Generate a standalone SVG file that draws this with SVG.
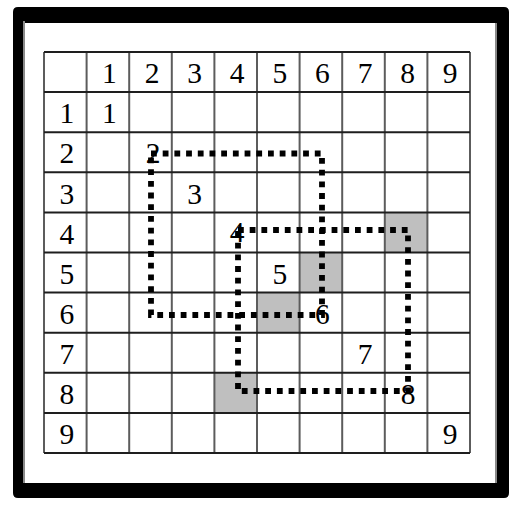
<svg xmlns="http://www.w3.org/2000/svg" width="522" height="510" viewBox="0 0 522 510">
<defs>
<style>
.hl{stroke:#1e1e1e;stroke-width:2}
.vl{stroke:#5c5c5c;stroke-width:2}
.cell{fill:#bfbfbf}
.t{font-family:"Liberation Serif","Times New Roman",serif;font-size:29.5px;fill:#000;text-anchor:middle}
.dot{fill:none;stroke:#000;stroke-width:5.8;stroke-dasharray:5.8 5.9}
</style>
</defs>
<rect width="522" height="510" fill="#fff"/>
<g id="frame">
<path fill="#000" fill-rule="evenodd" d="M18 7H504Q509 7 509 12V493Q509 498 504 498H18Q13 498 13 493V12Q13 7 18 7ZM23 23V483H497V23Z"/>
<rect x="23" y="21" width="2" height="462" fill="#8a8a8a"/>
<rect x="495" y="23" width="2" height="460" fill="#8a8a8a"/>
</g>
<g id="shaded">
<rect class="cell" x="384.8" y="212.4" width="42.6" height="40.1"/>
<rect class="cell" x="299.6" y="252.5" width="42.6" height="40.1"/>
<rect class="cell" x="257" y="292.6" width="42.6" height="40.1"/>
<rect class="cell" x="214.4" y="372.8" width="42.6" height="40.1"/>
</g>
<g id="grid">
<g class="vl">
<line x1="44" y1="52" x2="44" y2="453"/>
<line x1="86.6" y1="52" x2="86.6" y2="453"/>
<line x1="129.2" y1="52" x2="129.2" y2="453"/>
<line x1="171.8" y1="52" x2="171.8" y2="453"/>
<line x1="214.4" y1="52" x2="214.4" y2="453"/>
<line x1="257" y1="52" x2="257" y2="453"/>
<line x1="299.6" y1="52" x2="299.6" y2="453"/>
<line x1="342.2" y1="52" x2="342.2" y2="453"/>
<line x1="384.8" y1="52" x2="384.8" y2="453"/>
<line x1="427.4" y1="52" x2="427.4" y2="453"/>
<line x1="470" y1="52" x2="470" y2="453"/>
</g>
<g class="hl">
<line x1="44" y1="52" x2="470" y2="52"/>
<line x1="44" y1="92.1" x2="470" y2="92.1"/>
<line x1="44" y1="132.2" x2="470" y2="132.2"/>
<line x1="44" y1="172.3" x2="470" y2="172.3"/>
<line x1="44" y1="212.4" x2="470" y2="212.4"/>
<line x1="44" y1="252.5" x2="470" y2="252.5"/>
<line x1="44" y1="292.6" x2="470" y2="292.6"/>
<line x1="44" y1="332.7" x2="470" y2="332.7"/>
<line x1="44" y1="372.8" x2="470" y2="372.8"/>
<line x1="44" y1="412.9" x2="470" y2="412.9"/>
<line x1="44" y1="453" x2="470" y2="453"/>
</g>
</g>
<g id="header-labels">
<text class="t" x="109.4" y="83.2">1</text>
<text class="t" x="152" y="83.2">2</text>
<text class="t" x="194.6" y="83.2">3</text>
<text class="t" x="237.2" y="83.2">4</text>
<text class="t" x="279.8" y="83.2">5</text>
<text class="t" x="322.4" y="83.2">6</text>
<text class="t" x="365" y="83.2">7</text>
<text class="t" x="407.6" y="83.2">8</text>
<text class="t" x="450.2" y="83.2">9</text>
<text class="t" x="66.8" y="123.3">1</text>
<text class="t" x="66.8" y="163.4">2</text>
<text class="t" x="66.8" y="203.5">3</text>
<text class="t" x="66.8" y="243.6">4</text>
<text class="t" x="66.8" y="283.7">5</text>
<text class="t" x="66.8" y="323.8">6</text>
<text class="t" x="66.8" y="363.9">7</text>
<text class="t" x="66.8" y="404">8</text>
<text class="t" x="66.8" y="444.1">9</text>
</g>
<g id="connectors">
<rect class="dot" x="151" y="153.5" width="171" height="161.5"/>
<rect class="dot" x="238" y="230" width="170" height="161"/>
</g>
<g id="diagonal">
<text class="t" x="109.4" y="123.3">1</text>
<text class="t" x="153" y="163">2</text>
<text class="t" x="194.6" y="203.5">3</text>
<text class="t" x="237" y="241.5">4</text>
<text class="t" x="279.8" y="283.7">5</text>
<text class="t" x="322.4" y="323.5">6</text>
<text class="t" x="365" y="363.9">7</text>
<text class="t" x="408" y="403.5">8</text>
<text class="t" x="450.2" y="444.1">9</text>
</g>
</svg>
